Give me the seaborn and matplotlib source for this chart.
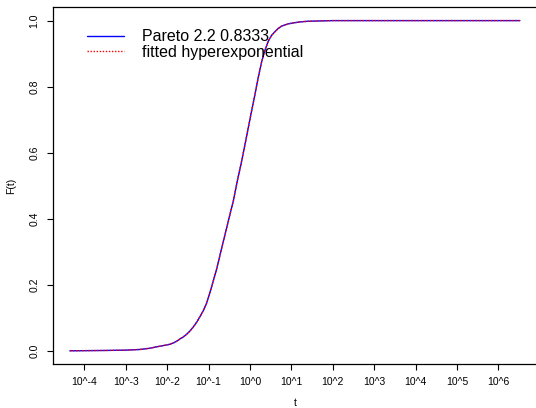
import numpy as np
import pandas as pd
import matplotlib
matplotlib.use("Agg")
import matplotlib.pyplot as plt
import seaborn as sns

# values (t on log10 scale, CDF values)
log10_t = [-4.35, -3.90, -3.50, -3.00, -2.90, -2.66, -2.40, -2.30, -2.17, -2.00,
           -1.93, -1.85, -1.77, -1.69, -1.61, -1.53, -1.45, -1.37, -1.29, -1.21,
           -1.13, -1.05, -0.97, -0.89, -0.80, -0.72, -0.64, -0.56, -0.48, -0.40,
           -0.31, -0.20, -0.12, -0.04, 0.04, 0.12, 0.20, 0.28, 0.36, 0.44,
           0.52, 0.60, 0.68, 0.76, 0.85, 0.92, 1.00, 1.10, 1.20, 1.30,
           1.40, 1.70, 2.00, 6.52]
pareto_F = [0.000, 0.0005, 0.001, 0.002, 0.0025, 0.004, 0.008, 0.011, 0.014, 0.018,
            0.020, 0.024, 0.029, 0.036, 0.042, 0.050, 0.060, 0.072, 0.086, 0.103,
            0.121, 0.143, 0.175, 0.210, 0.250, 0.292, 0.333, 0.374, 0.415, 0.455,
            0.512, 0.575, 0.625, 0.676, 0.727, 0.776, 0.828, 0.874, 0.910, 0.937,
            0.955, 0.966, 0.976, 0.983, 0.987, 0.990, 0.992, 0.994, 0.996, 0.997,
            0.998, 0.999, 1.000, 1.000]
hyper_F = list(pareto_F)

xtick_exp = [-4, -3, -2, -1, 0, 1, 2, 3, 4, 5, 6]
xtick_labels = ["10^-4", "10^-3", "10^-2", "10^-1", "10^0", "10^1",
                "10^2", "10^3", "10^4", "10^5", "10^6"]
ytick_vals = [0.0, 0.2, 0.4, 0.6, 0.8, 1.0]
series_labels = ["Pareto 2.2 0.8333", "fitted hyperexponential"]

sns.set_style("white")
plt.rcParams['font.family'] = ['Liberation Sans', 'DejaVu Sans']
plt.rcParams['text.color'] = 'black'
plt.rcParams['axes.labelcolor'] = 'black'
plt.rcParams['xtick.color'] = 'black'
plt.rcParams['ytick.color'] = 'black'

t = [10 ** v for v in log10_t]
df_p = pd.DataFrame({"t": t, "F": pareto_F})
df_h = pd.DataFrame({"t": t, "F": hyper_F})

fig = plt.figure(figsize=(5.36, 4.08), dpi=100)
ax = fig.add_axes([52.5 / 536, 44 / 408, 485.2 / 536, 356.6 / 408])

sns.lineplot(data=df_p, x="t", y="F", ax=ax, color="#0000ff", lw=1.0,
             label=series_labels[0], estimator=None, sort=False)
sns.lineplot(data=df_h, x="t", y="F", ax=ax, color="#ff0000", lw=1.0,
             linestyle=(0, (1, 1.2)), label=series_labels[1], estimator=None, sort=False)

ax.set_xscale("log")
ax.set_xlim(10 ** -4.77, 10 ** 6.95)
ax.set_ylim(-0.04, 1.04)
ax.set_xticks([10.0 ** e for e in xtick_exp])
ax.set_xticklabels(xtick_labels)
ax.xaxis.set_minor_locator(matplotlib.ticker.NullLocator())
ax.set_yticks(ytick_vals)
ax.set_yticklabels([f"{v:.1f}" for v in ytick_vals], rotation=90, va="center")

ax.tick_params(axis="both", direction="out", length=4.3, width=0.8, color="black",
               labelcolor="black", labelsize=7.5, pad=5, left=True, bottom=True)
for s in ["left", "bottom", "top", "right"]:
    ax.spines[s].set_color("black")
    ax.spines[s].set_linewidth(0.9)

ax.set_xlabel("t", fontsize=7.5, labelpad=8, color="black")
ax.set_ylabel("F(t)", fontsize=7.5, labelpad=10, color="black")

leg = ax.legend(loc="upper left", bbox_to_anchor=(0.072, 0.939), frameon=False,
                fontsize=11.5, handlelength=2.3, handletextpad=1.1,
                labelspacing=0.05, borderpad=0, borderaxespad=0)
for txt in leg.get_texts():
    txt.set_color("black")

fig.savefig("out.png", dpi=100)
